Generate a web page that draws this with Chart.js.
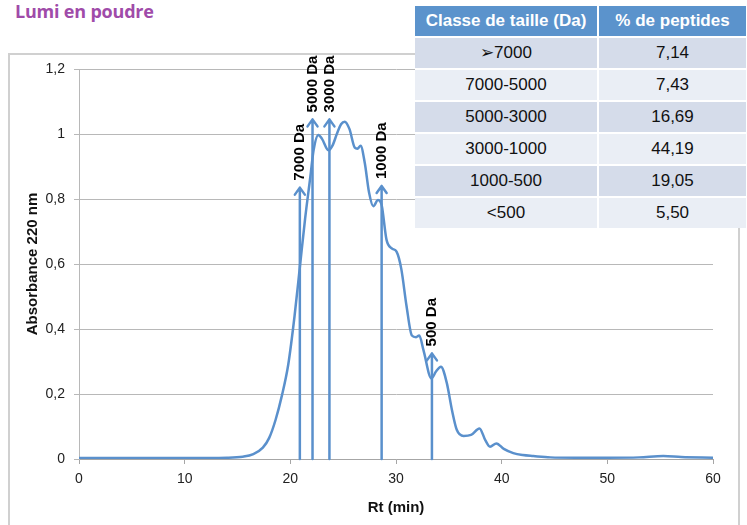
<!DOCTYPE html>
<html>
<head>
<meta charset="utf-8">
<script src="https://cdn.jsdelivr.net/npm/chart.js@4/dist/chart.umd.min.js"></script>
<style>
  body { margin: 0; background: #fff; width: 747px; height: 525px; overflow: hidden; position: relative; }
  #frame { position: absolute; left: 8px; top: 53px; width: 732px; height: 490px; border: 2px solid #d0d0d0; box-sizing: border-box; }
  #title { position: absolute; left: 15px; top: -1px; line-height: 20px; font: bold 18px "Open Sans", sans-serif; color: #a04ba9; letter-spacing: -0.2px; }
  #chart { position: absolute; left: 0; top: 0; }
  #sizes { position: absolute; left: 415px; top: 6px; display: grid; grid-template-columns: 182px 147px; gap: 2px; background: #fff;
           font-family: "Liberation Sans", Arial, sans-serif; font-size: 17px; }
  #sizes div { height: 30px; line-height: 30px; text-align: center; color: #111; }
  #sizes .head { background: #5b93cc; color: #fff; font-weight: bold; }
  #sizes .dark { background: #d5dcea; }
  #sizes .light { background: #eaeef5; }
</style>
</head>
<body>
<div id="frame"></div>
<div id="title">Lumi en poudre</div>
<canvas id="chart" width="747" height="525"></canvas>
<div id="sizes"></div>
<script>
// chromatogram
const rt = [0, 5, 10, 14, 15.5, 16.5, 17.4, 18.0, 18.6, 19.2, 19.8, 20.4, 20.9, 21.4, 21.9, 22.2, 22.65, 23.0, 23.6, 24.0,
  24.4, 24.8, 25.15, 25.6, 26.1, 26.35, 26.65, 27.05, 27.45, 27.85, 28.3, 28.65, 29.1, 29.6, 30.05, 30.5, 31.0, 31.5, 31.9,
  32.2, 32.6, 33.35, 33.8, 34.25, 34.8, 35.3, 35.75, 36.4, 37.1, 37.9, 38.45, 38.9, 39.5, 40.2, 41.1, 42.0, 43.0, 44.6,
  47, 50, 53, 55.3, 57, 60];
const absorbance = [0.003, 0.003, 0.003, 0.004, 0.007, 0.015, 0.035, 0.065, 0.12, 0.195, 0.29, 0.44, 0.59, 0.74, 0.87, 0.95, 0.997, 0.985, 0.95, 0.965,
  1.0, 1.03, 1.038, 1.015, 0.958, 0.955, 0.964, 0.91, 0.82, 0.778, 0.797, 0.78, 0.675, 0.648, 0.638, 0.585, 0.47, 0.38, 0.375,
  0.38, 0.335, 0.248, 0.27, 0.284, 0.235, 0.15, 0.09, 0.071, 0.074, 0.094, 0.058, 0.038, 0.048, 0.031, 0.018, 0.012, 0.009, 0.005,
  0.004, 0.004, 0.005, 0.009, 0.006, 0.004];

// calibration markers
const markerRt = [20.9, 22.1, 23.7, 28.64, 33.4];
const markerTop = [0.835, 1.045, 1.045, 0.84, 0.325];
const markerLabels = ["7000 Da", "5000 Da", "3000 Da", "1000 Da", "500 Da"];

// table
const sizeClasses = ["\u27A27000", "7000-5000", "5000-3000", "3000-1000", "1000-500", "<500"];
const peptidePct = ["7,14", "7,43", "16,69", "44,19", "19,05", "5,50"];

const blue = "#5a90cc";
const txtFont = "'Liberation Sans', Arial, sans-serif";

// build the table
const tbl = document.getElementById("sizes");
let html = '<div class="head">Classe de taille (Da)</div><div class="head">% de peptides</div>';
sizeClasses.forEach((c, i) => {
  const cls = i % 2 === 0 ? "dark" : "light";
  html += `<div class="${cls}">${c.replace("<", "&lt;")}</div><div class="${cls}">${peptidePct[i]}</div>`;
});
tbl.innerHTML = html;

// arrows + rotated labels
const markers = {
  id: "markers",
  afterDatasetsDraw(chart) {
    const { ctx, scales: { x, y } } = chart;
    ctx.save();
    ctx.strokeStyle = blue;
    ctx.lineWidth = 2.5;
    ctx.lineCap = "round";
    ctx.lineJoin = "round";
    markerRt.forEach((t, i) => {
      const px = x.getPixelForValue(t);
      const y0 = y.getPixelForValue(0);
      const y1 = y.getPixelForValue(markerTop[i]);
      ctx.beginPath();
      ctx.moveTo(px, y0);
      ctx.lineTo(px, y1);
      ctx.moveTo(px - 5, y1 + 7);
      ctx.lineTo(px, y1);
      ctx.lineTo(px + 5, y1 + 7);
      ctx.stroke();

      ctx.save();
      ctx.translate(px, y1 - 7);
      ctx.rotate(-Math.PI / 2);
      ctx.fillStyle = "#000";
      ctx.font = "bold 15px " + txtFont;
      ctx.textAlign = "left";
      ctx.textBaseline = "middle";
      ctx.fillText(markerLabels[i], 0, 0);
      ctx.restore();
    });
    ctx.restore();
  }
};

const fmt = v => String(Math.round(v * 10) / 10).replace(".", ",");

new Chart(document.getElementById("chart"), {
  type: "line",
  data: {
    datasets: [{
      data: rt.map((t, i) => ({ x: t, y: absorbance[i] })),
      borderColor: blue,
      borderWidth: 2.5,
      pointRadius: 0,
      cubicInterpolationMode: "monotone",
      fill: false
    }]
  },
  options: {
    responsive: false,
    animation: false,
    devicePixelRatio: 1,
    layout: { padding: { left: 0, top: 69, right: 34, bottom: 0 } },
    plugins: { legend: { display: false }, tooltip: { enabled: false } },
    scales: {
      x: {
        type: "linear",
        min: 0, max: 60,
        afterFit: s => { s.height = 66; },
        ticks: { stepSize: 10, color: "#222", padding: 7, font: { family: txtFont, size: 14 } },
        grid: { display: true, drawOnChartArea: false, drawTicks: true, tickLength: 5, color: "#a6a6a6" },
        border: { color: "#a6a6a6", width: 1 },
        title: { display: true, text: "Rt (min)", color: "#111", padding: { top: 0, bottom: 8 },
                 font: { family: txtFont, size: 15, weight: "bold" } }
      },
      y: {
        min: 0, max: 1.2,
        afterFit: s => { s.width = 79; },
        ticks: { stepSize: 0.2, color: "#222", padding: 9, callback: fmt, font: { family: txtFont, size: 14 } },
        grid: { color: "#b8b8b8", lineWidth: 1, tickLength: 5 },
        border: { color: "#b8b8b8", width: 1 },
        title: { display: true, text: "Absorbance 220 nm", color: "#111", padding: { top: 24, bottom: 0 },
                 font: { family: txtFont, size: 15, weight: "bold" } }
      }
    }
  },
  plugins: [markers]
});
</script>
</body>
</html>
